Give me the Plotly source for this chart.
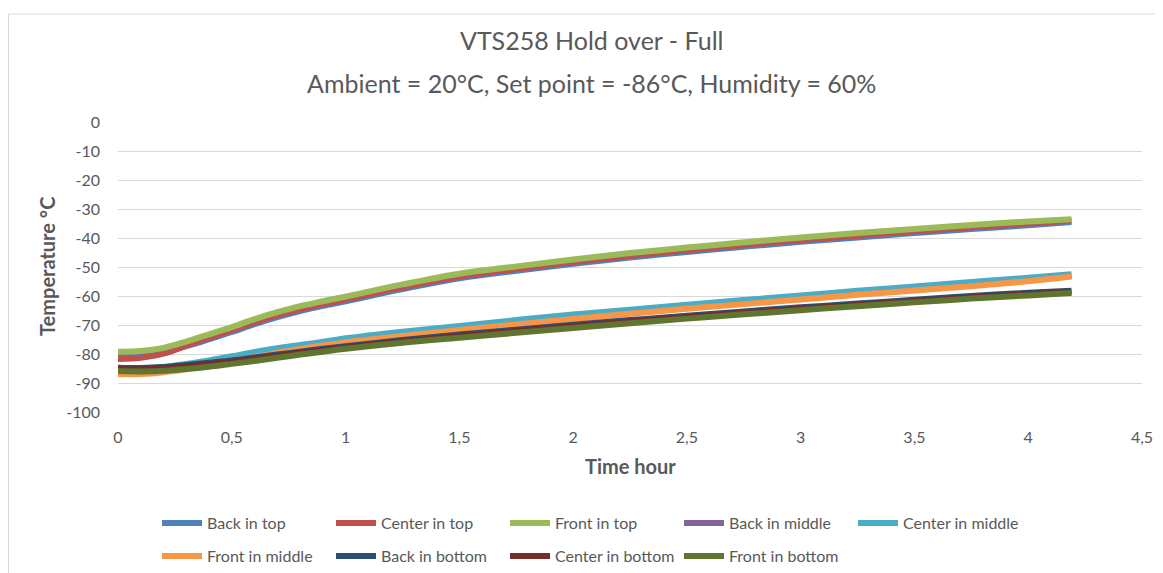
import plotly.graph_objects as go

# ---------------- data ----------------
time_hour = [0, 0.1, 0.2, 0.3, 0.4, 0.5, 0.6, 0.7, 0.8, 0.9, 1.0, 1.25, 1.5, 1.75,
             2.0, 2.25, 2.5, 2.75, 3.0, 3.25, 3.5, 3.75, 4.0, 4.19]

back_in_top = [-80.5, -80.5, -79.4, -77.3, -74.9, -72.4, -69.7, -67.3, -65.2, -63.4, -61.8,
               -57.6, -53.9, -51.3, -48.9, -46.7, -44.8, -43.0, -41.3, -39.8, -38.3, -36.9,
               -35.6, -34.5]
center_in_top = [-81.7, -81.3, -79.9, -77.1, -74.4, -71.8, -69.1, -66.7, -64.6, -62.8, -61.2,
                 -57.0, -53.3, -50.7, -48.3, -46.1, -44.2, -42.4, -40.7, -39.2, -37.7, -36.3,
                 -35.0, -34.0]
front_in_top = [-79.2, -79.0, -77.9, -75.7, -73.2, -70.7, -68.0, -65.6, -63.5, -61.8, -60.2,
                -56.0, -52.3, -49.8, -47.4, -45.2, -43.3, -41.5, -39.8, -38.3, -36.9, -35.5,
                -34.3, -33.5]
back_in_middle = [-86.0, -86.0, -85.4, -84.4, -83.1, -81.7, -80.2, -78.8, -77.6, -76.5, -75.3,
                  -73.1, -71.0, -69.1, -67.2, -65.4, -63.7, -62.1, -60.5, -58.9, -57.4, -55.9,
                  -54.3, -52.9]
center_in_middle = [-85.0, -85.0, -84.5, -83.4, -82.2, -80.8, -79.3, -78.0, -76.9, -75.8, -74.6,
                    -72.3, -70.3, -68.3, -66.4, -64.7, -63.0, -61.4, -59.8, -58.2, -56.7, -55.2,
                    -53.7, -52.5]
front_in_middle = [-86.9, -86.9, -86.3, -85.3, -84.0, -82.6, -81.1, -79.6, -78.3, -77.1, -76.0,
                   -73.8, -71.7, -69.8, -67.9, -66.1, -64.4, -62.8, -61.2, -59.6, -58.1, -56.6,
                   -54.9, -53.3]
back_in_bottom = [-84.7, -84.8, -84.5, -83.8, -83.0, -82.2, -81.2, -80.2, -79.2, -78.2, -77.3,
                  -75.2, -73.3, -71.6, -69.9, -68.3, -66.8, -65.3, -63.9, -62.6, -61.3, -60.0,
                  -58.9, -58.2]
center_in_bottom = [-85.2, -85.3, -85.0, -84.3, -83.5, -82.7, -81.7, -80.7, -79.7, -78.7, -77.8,
                    -75.7, -73.8, -72.1, -70.4, -68.8, -67.3, -65.8, -64.4, -63.1, -61.8, -60.5,
                    -59.4, -58.6]
front_in_bottom = [-85.9, -86.0, -85.8, -85.2, -84.4, -83.4, -82.4, -81.3, -80.2, -79.2, -78.2,
                   -76.1, -74.4, -72.7, -71.0, -69.4, -67.8, -66.3, -64.9, -63.5, -62.2, -60.9,
                   -59.8, -59.0]

series_names = ["Back in top", "Center in top", "Front in top", "Back in middle",
                "Center in middle", "Front in middle", "Back in bottom",
                "Center in bottom", "Front in bottom"]
series_values = [back_in_top, center_in_top, front_in_top, back_in_middle,
                 center_in_middle, front_in_middle, back_in_bottom,
                 center_in_bottom, front_in_bottom]
series_colors = ["#4F81BD", "#C0504D", "#9BBB59", "#8064A2", "#4BACC6",
                 "#F79646", "#2C4D75", "#772C2A", "#5F7530"]

y_tick_values = [0, -10, -20, -30, -40, -50, -60, -70, -80, -90, -100]
y_tick_labels = ["0", "-10", "-20", "-30", "-40", "-50", "-60", "-70", "-80", "-90", "-100"]
x_tick_values = [0, 0.5, 1, 1.5, 2, 2.5, 3, 3.5, 4, 4.5]
x_tick_labels = ["0", "0,5", "1", "1,5", "2", "2,5", "3", "3,5", "4", "4,5"]

title_line1 = "VTS258 Hold over - Full"
title_line2 = "Ambient = 20°C, Set point = -86°C, Humidity = 60%"

# ---------------- figure ----------------
FONT = "Lato"
GREY = "#595959"

OFF = 8                       # page body margin
W, H = 1163 - OFF, 573 - OFF
L, R, T, B = 118 - OFF, 21, 122 - OFF, 161
pw, ph = W - L - R, H - T - B


def px_x(x):
    """page pixel x -> paper fraction"""
    return (x - OFF - L) / pw


def px_y(y):
    """page pixel y -> paper fraction"""
    return (H - B - (y - OFF)) / ph


fig = go.Figure()
for i, (name, vals, col) in enumerate(zip(series_names, series_values, series_colors)):
    fig.add_trace(go.Scatter(
        x=time_hour, y=vals, name=name, mode="lines",
        line=dict(color=col, width=6, shape="spline", smoothing=1.0),
        legend="legend" if i < 5 else "legend2",
    ))

legend_common = dict(
    orientation="h", xanchor="left", yanchor="middle",
    font=dict(family=FONT, size=16, color=GREY),
    entrywidth=119, entrywidthmode="pixels",
    bgcolor="rgba(0,0,0,0)", itemwidth=40, tracegroupgap=0,
)


def note(text, x, y, size, **kw):
    return dict(text=text, x=px_x(x), y=px_y(y), xref="paper", yref="paper",
                xanchor="center", yanchor="middle", showarrow=False,
                font=dict(family=FONT, size=size, color=GREY), **kw)


fig.update_layout(
    width=W, height=H,
    margin=dict(l=L, r=R, t=T, b=B, autoexpand=False),
    paper_bgcolor="white", plot_bgcolor="white",
    font=dict(family=FONT, color=GREY),
    showlegend=True,
    legend=dict(x=px_x(157), y=px_y(523), **legend_common),
    legend2=dict(x=px_x(157), y=px_y(556), **legend_common),
    xaxis=dict(
        range=[0, 4.5], tickvals=x_tick_values, ticktext=x_tick_labels,
        showgrid=False, zeroline=False, showline=False, ticks="",
        tickfont=dict(family=FONT, size=16, color=GREY), ticklabelstandoff=14,
    ),
    yaxis=dict(
        range=[-100, 0], tickvals=y_tick_values, ticktext=y_tick_labels,
        showgrid=True, gridcolor="#D9D9D9", gridwidth=1,
        zeroline=False, showline=False, ticks="",
        tickfont=dict(family=FONT, size=16, color=GREY), ticklabelstandoff=17,
    ),
    shapes=[dict(type="rect", xref="paper", yref="paper",
                 x0=px_x(8.5), x1=px_x(1175), y0=px_y(590), y1=px_y(14),
                 line=dict(color="#D9D9D9", width=1), layer="below")],
    annotations=[
        note(title_line1, 591, 40, 25),
        note(title_line2, 591, 83, 25),
        note("<b>Temperature °C</b>", 47, 267, 20, textangle=-90),
        note("<b>Time hour</b>", 630, 466, 20),
    ],
)

fig.write_html("out.html")
